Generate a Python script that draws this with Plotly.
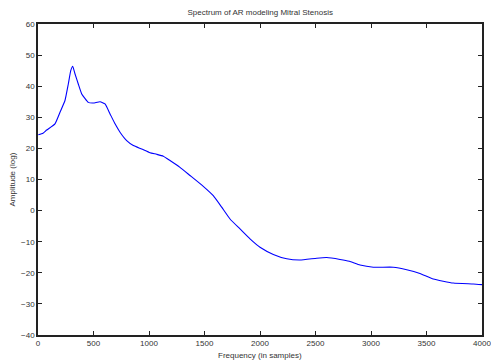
import plotly.graph_objects as go

freq = [3, 45, 78, 153, 198, 243, 273, 295, 313, 333, 363, 394, 453, 498, 559, 604, 649,
        694, 739, 799, 859, 934, 1009, 1069, 1129, 1189, 1279, 1369, 1489, 1579, 1655,
        1730, 1820, 1910, 2000, 2120, 2241, 2360, 2511, 2601, 2721, 2805, 2901, 3021,
        3201, 3322, 3441, 3561, 3741, 3922, 4000]
amp = [24.4, 24.9, 25.9, 27.9, 31.6, 35.4, 40.7, 45.0, 46.4, 44.0, 40.7, 37.5, 34.8, 34.6,
       35.0, 34.3, 31.1, 27.9, 25.2, 22.5, 20.9, 19.8, 18.6, 18.1, 17.5, 16.1, 13.9, 11.3,
       7.8, 4.8, 1.1, -2.7, -5.9, -9.1, -11.8, -14.1, -15.5, -15.9, -15.3, -15.1, -15.7,
       -16.3, -17.5, -18.2, -18.2, -19.0, -20.2, -22.0, -23.3, -23.6, -23.8]

x_ticks = [0, 500, 1000, 1500, 2000, 2500, 3000, 3500, 4000]
y_ticks = [-40, -30, -20, -10, 0, 10, 20, 30, 40, 50, 60]

FONT = "Liberation Sans"
TXT = dict(family=FONT, size=8, color="#333333")

fig = go.Figure(go.Scatter(x=freq, y=amp, mode="lines",
                           line=dict(color="#0000ff", width=1.1, shape="spline", smoothing=0.4)))

axis_common = dict(showgrid=False, zeroline=False, showline=True, linecolor="#222222", linewidth=1.5,
                   mirror="ticks", ticks="inside", ticklen=4, tickcolor="#222222",
                   automargin=False, tickfont=TXT, ticklabeloverflow="allow")

fig.update_layout(
    width=491, height=362,
    margin=dict(l=38, r=9, t=24, b=27, autoexpand=False),
    paper_bgcolor="white", plot_bgcolor="white",
    showlegend=False,
    title=dict(text="Spectrum of AR modeling Mitral Stenosis", x=0.53, xanchor="center",
               y=1 - 12 / 362, yanchor="middle", yref="container", font=TXT),
    xaxis=dict(range=[0, 4000], tickvals=x_ticks, **axis_common),
    yaxis=dict(range=[-40, 60], tickvals=y_ticks, **axis_common),
    annotations=[
        dict(text="Frequency (in samples)", xref="paper", yref="paper", x=0.5, y=-20 / 311,
             xanchor="center", yanchor="middle", showarrow=False, font=TXT),
        dict(text="Amplitude (log)", xref="paper", yref="paper", x=-26 / 444, y=0.5, textangle=-90,
             xanchor="center", yanchor="middle", showarrow=False, font=TXT),
    ],
)

fig.write_html("out.html", config={"displayModeBar": False},
               post_script="document.body.style.margin='0';")
